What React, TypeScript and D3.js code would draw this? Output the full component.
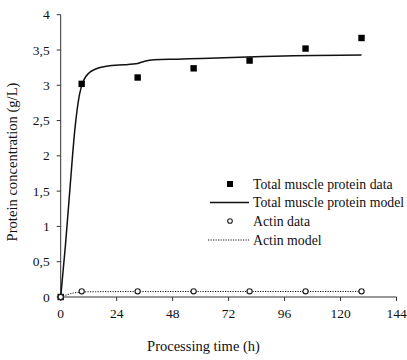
import React from "react";
import * as d3 from "d3";

// measured samples (hours, g/L)
const sampleTimes = [0, 9, 33, 57, 81, 105, 129];
const totalProtein = [0, 3.02, 3.11, 3.24, 3.35, 3.52, 3.67];
const actinData = [0, 0.08, 0.08, 0.08, 0.08, 0.08, 0.08];

// fitted model curves
const modelTimes = [0, 2, 4, 6, 8, 10, 12, 15, 18, 22, 27, 31, 33, 36, 40, 50, 60, 80, 100, 129];
const totalModel = [0, 0.72, 1.55, 2.35, 2.86, 3.08, 3.17, 3.23, 3.26, 3.28, 3.29, 3.3, 3.31, 3.34, 3.36, 3.37, 3.38, 3.4, 3.42, 3.43];
const actinModel = [0, 0.025, 0.045, 0.06, 0.068, 0.072, 0.074, 0.075, 0.076, 0.076, 0.077, 0.077, 0.077, 0.077, 0.077, 0.078, 0.078, 0.078, 0.078, 0.079];

const xTicks = [0, 24, 48, 72, 96, 120, 144];
const yTicks = [0, 0.5, 1, 1.5, 2, 2.5, 3, 3.5, 4];

const legendItems = [
  "Total muscle protein data",
  "Total muscle protein model",
  "Actin data",
  "Actin model",
];

const FONT = "Liberation Serif";
const INK = "#111";

const x = d3.scaleLinear().domain([0, 144]).range([60.7, 396.5]);
const y = d3.scaleLinear().domain([0, 4]).range([297, 14.7]);
const fmt = (d: number) => String(d).replace(".", ",");

const line = d3
  .line<number>()
  .x((_, i) => x(modelTimes[i]))
  .y((d) => y(d))
  .curve(d3.curveMonotoneX);

const rowY = [184, 202.5, 221, 240];

const App = () => {
  return (
    <svg
      width={407}
      height={360}
      style={{ position: "absolute", left: 0, top: 0, background: "#fff" }}
      fontFamily={FONT}
    >
      {/* axes */}
      <line x1={x(0)} x2={x(144)} y1={y(0)} y2={y(0)} stroke="#333" />
      <line x1={x(0)} x2={x(0)} y1={y(0)} y2={y(4)} stroke="#333" />
      {xTicks.map((t) => (
        <g key={"x" + t} transform={`translate(${x(t)},${y(0)})`}>
          <line y2={4} stroke="#333" />
          <text y={21} textAnchor="middle" fontSize={13.5} fill={INK}>
            {fmt(t)}
          </text>
        </g>
      ))}
      {yTicks.map((t) => (
        <g key={"y" + t} transform={`translate(${x(0)},${y(t)})`}>
          <line x2={-4} stroke="#333" />
          <text x={-11} dy="0.34em" textAnchor="end" fontSize={13.5} fill={INK}>
            {fmt(t)}
          </text>
        </g>
      ))}

      {/* model curves */}
      <path d={line(actinModel) ?? ""} fill="none" stroke={INK} strokeWidth={1} strokeDasharray="1.2,1.3" />
      <path d={line(totalModel) ?? ""} fill="none" stroke={INK} strokeWidth={1.5} />

      {/* data points */}
      {totalProtein.map((v, i) => (
        <rect key={"s" + i} x={x(sampleTimes[i]) - 3.2} y={y(v) - 3.2} width={6.4} height={6.4} fill="#000" />
      ))}
      {actinData.map((v, i) => (
        <circle key={"c" + i} cx={x(sampleTimes[i])} cy={y(v)} r={2.6} fill="#fff" stroke="#222" strokeWidth={1.2} />
      ))}

      {/* legend */}
      <rect x={227} y={rowY[0] - 3} width={6} height={6} fill="#000" />
      <line x1={210} x2={249} y1={rowY[1]} y2={rowY[1]} stroke={INK} strokeWidth={1.5} />
      <circle cx={230} cy={rowY[2]} r={2.3} fill="#fff" stroke="#222" strokeWidth={1.1} />
      <line x1={208} x2={249} y1={rowY[3]} y2={rowY[3]} stroke={INK} strokeWidth={1} strokeDasharray="1.2,1.3" />
      {legendItems.map((s, i) => (
        <text key={s} x={253} y={rowY[i] + 4.8} fontSize={13.8} fill={INK}>
          {s}
        </text>
      ))}

      {/* axis titles */}
      <text x={203.5} y={350.5} textAnchor="middle" fontSize={14.5} fill={INK}>
        Processing time (h)
      </text>
      <text transform="translate(16.5,162) rotate(-90)" textAnchor="middle" fontSize={14.6} fill={INK}>
        Protein concentration (g/L)
      </text>
    </svg>
  );
};

export default App;
